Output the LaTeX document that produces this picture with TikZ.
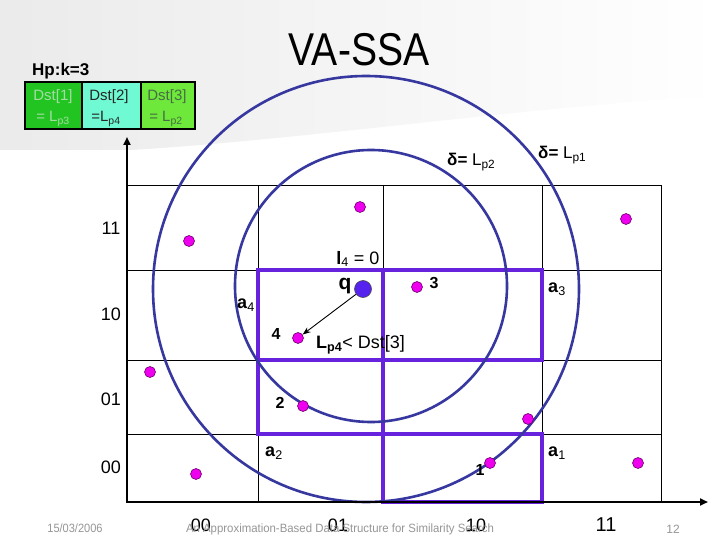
\documentclass[tikz,border=0pt]{standalone}
\usepackage{fontspec}
\setmainfont{Liberation Sans}
\usetikzlibrary{arrows.meta}
\definecolor{boxc}{RGB}{102,34,221}
\definecolor{circc}{RGB}{55,55,160}
\definecolor{ptfill}{RGB}{238,0,238}
\definecolor{ptline}{RGB}{110,0,110}
\definecolor{qfill}{RGB}{85,34,238}
\definecolor{cA}{RGB}{34,196,34}
\definecolor{cB}{RGB}{112,250,212}
\definecolor{cC}{RGB}{110,232,58}
\definecolor{tA}{RGB}{165,220,165}
\definecolor{tC}{RGB}{70,110,70}
\definecolor{foot}{RGB}{150,150,150}
\newcommand{\fs}[1]{\fontsize{#1}{#1}\selectfont}
\begin{document}
\begin{tikzpicture}[x=1pt,y=-1pt,
  pt/.style={circle, fill=ptfill, draw=ptline, line width=0.6pt, minimum size=11pt, inner sep=0pt},
  qpt/.style={circle, fill=qfill, draw=black!70, line width=0.6pt, minimum size=17pt, inner sep=0pt},
  gridl/.style={line width=0.8pt, black},
  axisl/.style={line width=2.6pt, black, -{Triangle[length=8pt,width=7pt]}},
  boxl/.style={line width=3.6pt, boxc},
  circl/.style={line width=2.6pt, circc},
  lab/.style={inner sep=0pt, font=\fs{18}},
  blab/.style={inner sep=0pt, font=\bfseries\fs{18}},
  nlab/.style={inner sep=0pt, font=\bfseries\fs{16}},
  tbl/.style={inner sep=0pt, font=\fs{15}},
  footl/.style={inner sep=0pt, text=foot, font=\fs{12}}]
\useasboundingbox (0,0) rectangle (720,540);
\fill[white] (0,0) rectangle (720,540);
\shade[left color=black!8, right color=white] (0,0) -- (720,0) -- (720,95) .. controls (500,110) and (300,140) .. (130,150) -- (0,150) -- cycle;

% title
\node[inner sep=0pt, font=\fs{46}] (title) at (359,50) {\scalebox{0.85}[1]{VA-SSA}};
\node[inner sep=0pt, anchor=west, font=\bfseries\fs{17}] (hp) at (32,71) {Hp:k=3};

% table
\fill[cA] (25,82) rectangle (82,129);
\fill[cB] (82,82) rectangle (141,129);
\fill[cC] (141,82) rectangle (195,129);
\draw[line width=2pt] (82,82) -- (82,129) (141,82) -- (141,129);
\draw[line width=2.8pt] (25,82) rectangle (195,129);
\node[tbl, text=tA] (d1a) at (53,97) {Dst[1]};
\node[tbl, text=tA] (d1b) at (53,119) {= L\textsubscript{p3}};
\node[tbl, text=black!85] (d2a) at (109,97) {Dst[2]};
\node[tbl, text=black!85] (d2b) at (106,119) {=L\textsubscript{p4}};
\node[tbl, text=tC] (d3a) at (167,97) {Dst[3]};
\node[tbl, text=tC] (d3b) at (166,119) {= L\textsubscript{p2}};

% grid
\draw[gridl] (127,185) -- (661,185) -- (661,502);
\draw[gridl] (127,270) -- (661,270) (127,360) -- (661,360) (127,434) -- (661,434);
\draw[gridl] (258,185) -- (258,502) (383,185) -- (383,502) (542,185) -- (542,502);

% purple boxes
\draw[boxl] (258,270) rectangle (383,360);
\draw[boxl] (383,270) rectangle (542,360);
\draw[boxl] (258,360) rectangle (383,434);
\draw[boxl] (383,434) rectangle (542,502);

% circles
\draw[circl] (366,289) circle[radius=213pt];
\draw[circl] (371,286) circle[radius=136pt];

% axes
\draw[axisl] (127,503) -- (127,137);
\draw[axisl] (126,502) -- (708,502);

% points
\node[pt] (p1) at (189,241) {};
\node[pt] (p2) at (360,207) {};
\node[pt] (p3) at (626,219) {};
\node[pt] (p4) at (417,287) {};
\node[pt] (p5) at (298,338) {};
\node[pt] (p6) at (150,372) {};
\node[pt] (p7) at (303,406) {};
\node[pt] (p8) at (528,419) {};
\node[pt] (p9) at (490,463) {};
\node[pt] (p10) at (196,474) {};
\node[pt] (p11) at (638,463) {};
\node[qpt] (q) at (363,289) {};
\draw[-{Stealth[length=8pt,width=6pt]}, line width=0.9pt] (q) -- (p5);

% labels
\node[inner sep=0pt, font=\bfseries\fs{21}] (ql) at (345,286) {q};
\node[lab] (l4) at (358,259) {\textbf{l}\textsubscript{4} = 0};
\node[blab] (a4) at (246,305) {a\textsubscript{\mdseries 4}};
\node[blab] (a3) at (557,289) {a\textsubscript{\mdseries 3}};
\node[blab] (a2) at (274,453) {a\textsubscript{\mdseries 2}};
\node[blab] (a1) at (557,453) {a\textsubscript{\mdseries 1}};
\node[nlab] (n4) at (276,334) {4};
\node[nlab] (n3) at (434,283) {3};
\node[nlab] (n2) at (280,403) {2};
\node[nlab] (n1) at (480,470) {1};
\node[lab, anchor=west] (lp4) at (316,345) {\textbf{L}\textsubscript{\textbf{p4}}< Dst[3]};
\node[inner sep=0pt, anchor=west, font=\fs{17}] (dl2) at (447,162) {\textbf{δ=} L\textsubscript{p2}};
\node[inner sep=0pt, anchor=west, font=\fs{17}] (dl1) at (538,155) {\textbf{δ=} L\textsubscript{p1}};

% axis labels
\node[lab] (y11) at (111,228) {11};
\node[lab] (y10) at (111,314) {10};
\node[lab] (y01) at (111,399) {01};
\node[lab] (y00) at (111,467) {00};
\node[lab] (x00) at (201,525) {00};
\node[lab] (x01) at (338,525) {01};
\node[lab] (x10) at (476,525) {10};
\node[lab, font=\fs{20}] (x11) at (606,525) {11};

% footer
\node[footl] (date) at (75,528) {\scalebox{0.92}[1]{15/03/2006}};
\node[footl] (ftitle) at (340,529) {\scalebox{0.95}[1]{An Approximation-Based Data Structure for Similarity Search}};
\node[footl] (page) at (673,529) {12};
\end{tikzpicture}
\end{document}
